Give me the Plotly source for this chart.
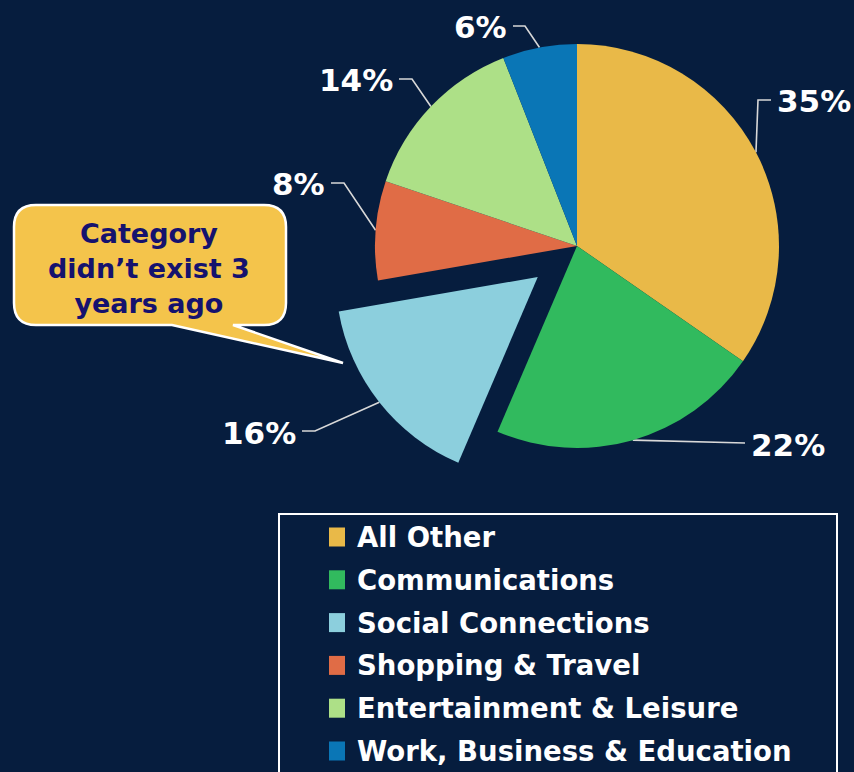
import math
import plotly.graph_objects as go

# ---------------- data ----------------
categories = ["All Other", "Communications", "Social Connections",
              "Shopping & Travel", "Entertainment & Leisure",
              "Work, Business & Education"]
shares = [35, 22, 16, 8, 14, 6]
pct_labels = ["35%", "22%", "16%", "8%", "14%", "6%"]
exploded = "Social Connections"
callout_lines = ["Category", "didn\u2019t exist 3", "years ago"]

# ---------------- style ----------------
W, H = 854, 772
BG = "#061D3E"
colors = ["#E9B948", "#31BA5E", "#8CCFDD", "#E06C46", "#ADE087", "#0A76B6"]
FONT = "DejaVu Sans, Verdana, sans-serif"
LINE_COL = "#D8D8D8"

CX, CY, R = 577, 246, 202      # pie centre / radius (px)
PULL_PX = 50                   # explode distance (px)

label_layout = {
    "All Other":                  dict(elbow=(758, 100), end=(771, 100), text=(775, 101), xa="left"),
    "Communications":             dict(elbow=(700, 442), end=(745, 443), text=(749, 445), xa="left"),
    "Social Connections":         dict(elbow=(315, 431), end=(302, 431), text=(298, 433), xa="right"),
    "Shopping & Travel":          dict(elbow=(344, 183), end=(331, 183), text=(327, 184), xa="right"),
    "Entertainment & Leisure":    dict(elbow=(412, 79), end=(399, 79), text=(395, 80), xa="right"),
    "Work, Business & Education": dict(elbow=(525, 26), end=(513, 26), text=(509, 27), xa="right"),
}

total = sum(shares)
mids = []
acc = 0
for v in shares:
    mids.append((acc + v / 2) / total * 360)
    acc += v

ex_i = categories.index(exploded)
th = math.radians(mids[ex_i])
pdx, pdy = PULL_PX * math.sin(th), -PULL_PX * math.cos(th)


def dom(cx, cy, r):
    return dict(x=[(cx - r) / W, (cx + r) / W],
                y=[1 - (cy + r) / H, 1 - (cy - r) / H])


fig = go.Figure()

fig.update_layout(
    xaxis=dict(range=[0, W], visible=False, fixedrange=True, domain=[0, 1]),
    yaxis=dict(range=[H, 0], visible=False, fixedrange=True, domain=[0, 1]),
)

# leader lines + percentage labels
for i, cat in enumerate(categories):
    th_i = math.radians(mids[i])
    cx, cy = (CX + pdx, CY + pdy) if i == ex_i else (CX, CY)
    ax = cx + R * math.sin(th_i)
    ay = cy - R * math.cos(th_i)
    lay = label_layout[cat]
    fig.add_trace(go.Scatter(
        x=[ax, lay["elbow"][0], lay["end"][0]],
        y=[ay, lay["elbow"][1], lay["end"][1]],
        mode="lines", line=dict(color=LINE_COL, width=1.6),
        hoverinfo="skip", showlegend=False))
    fig.add_annotation(x=lay["text"][0], y=lay["text"][1], xref="x", yref="y",
                       text=pct_labels[i], showarrow=False,
                       xanchor=lay["xa"], yanchor="middle",
                       font=dict(family=FONT, size=31, color="white", weight="bold"))

# main pie (exploded slice hidden)
main_cols = [("rgba(0,0,0,0)" if i == ex_i else c) for i, c in enumerate(colors)]
fig.add_trace(go.Pie(
    labels=categories, values=shares, sort=False, direction="clockwise",
    rotation=0, textinfo="none", hoverinfo="label+percent",
    marker=dict(colors=main_cols, line=dict(width=0)),
    domain=dom(CX, CY, R), showlegend=False))

# exploded slice drawn as an offset copy
ex_cols = [(c if i == ex_i else "rgba(0,0,0,0)") for i, c in enumerate(colors)]
fig.add_trace(go.Pie(
    labels=categories, values=shares, sort=False, direction="clockwise",
    rotation=0, textinfo="none", hoverinfo="skip",
    marker=dict(colors=ex_cols, line=dict(width=0)),
    domain=dom(CX + pdx, CY + pdy, R), showlegend=False))

# callout bubble
L_, Rt, T_, B_, rr = 14, 286, 205, 325, 22
path = (f"M {L_+rr},{T_} L {Rt-rr},{T_} Q {Rt},{T_} {Rt},{T_+rr} "
        f"L {Rt},{B_-rr} Q {Rt},{B_} {Rt-rr},{B_} L 233,{B_} L 343,363 L 172,{B_} "
        f"L {L_+rr},{B_} Q {L_},{B_} {L_},{B_-rr} L {L_},{T_+rr} Q {L_},{T_} {L_+rr},{T_} Z")
fig.add_shape(type="path", path=path, xref="x", yref="y",
              fillcolor="#F4C44B", line=dict(color="white", width=2.5), layer="above")
fig.add_annotation(x=149, y=268, xref="x", yref="y",
                   text="<br>".join(callout_lines), showarrow=False,
                   xanchor="center", yanchor="middle", align="center",
                   font=dict(family=FONT, size=27, color="#15126E", weight="bold"))

# legend (manual box)
fig.add_shape(type="rect", x0=279, y0=514, x1=837, y1=800, xref="x", yref="y",
              line=dict(color="white", width=2), fillcolor="rgba(0,0,0,0)", layer="above")
for i, cat in enumerate(categories):
    yc = 537 + i * 42.8
    fig.add_shape(type="rect", x0=329, x1=345, y0=yc - 9.5, y1=yc + 9.5, xref="x", yref="y",
                  fillcolor=colors[i], line=dict(width=0), layer="above")
    fig.add_annotation(x=355, y=yc, xref="x", yref="y", text=cat, showarrow=False,
                       xanchor="left", yanchor="middle",
                       font=dict(family=FONT, size=27.5, color="white", weight="bold"))

fig.update_layout(
    width=W, height=H, margin=dict(l=0, r=0, t=0, b=0),
    paper_bgcolor=BG, plot_bgcolor=BG, showlegend=False,
)

fig.write_html("out.html")
